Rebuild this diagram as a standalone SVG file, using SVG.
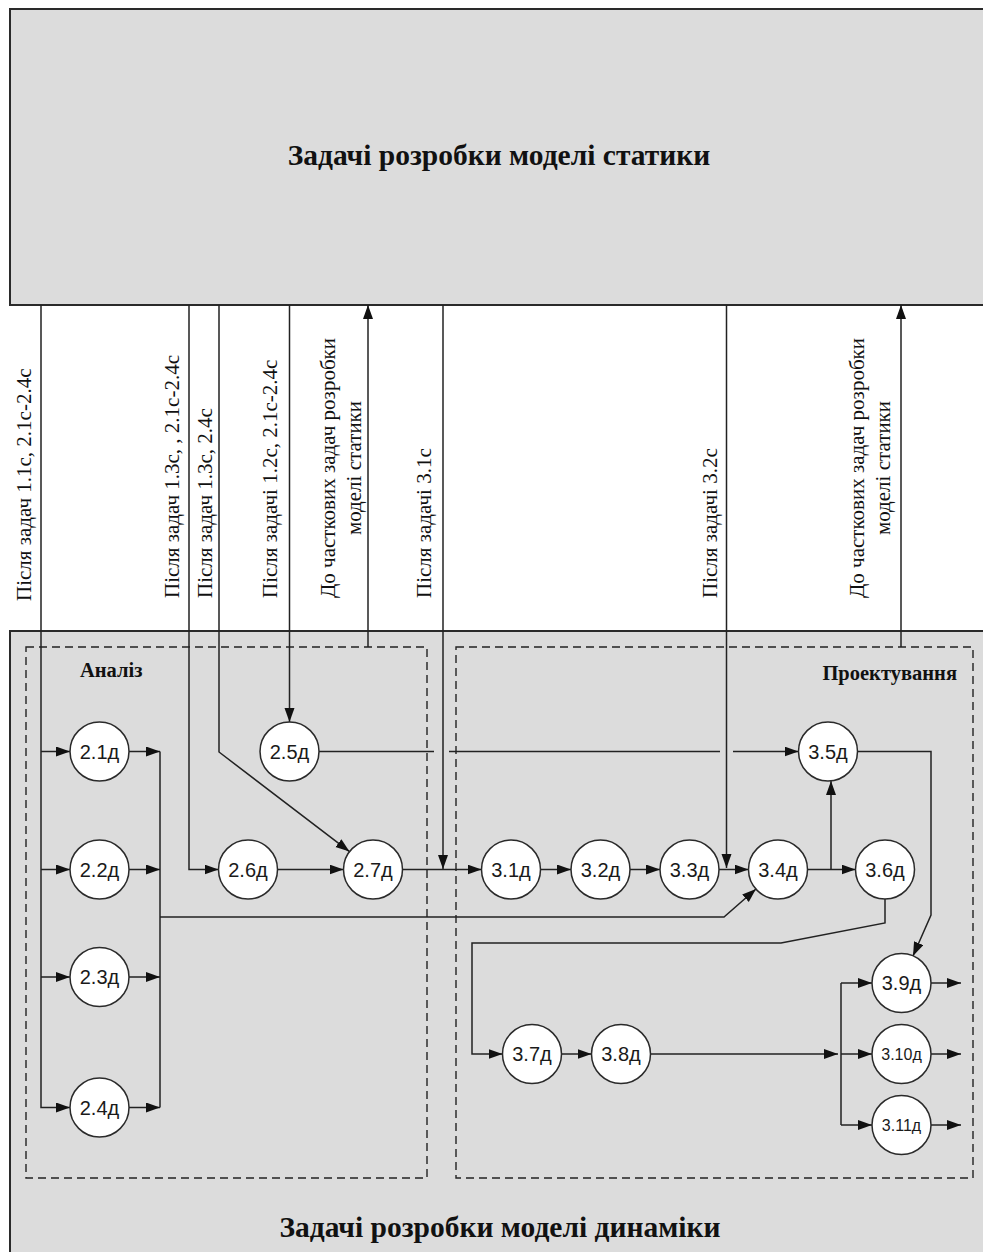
<svg xmlns="http://www.w3.org/2000/svg" width="983" height="1252" viewBox="0 0 983 1252">
  <style>
    .panel { fill: #dcdcdc; stroke: #2a2a2a; stroke-width: 2; }
    .group { fill: none; stroke: #222; stroke-width: 1.4; stroke-dasharray: 8 5; }
    .node circle { fill: #fff; stroke: #2a2a2a; stroke-width: 1.5; }
    .node text { font-family: "Liberation Sans", Arial, sans-serif; font-size: 20px; fill: #1a1a1a; text-anchor: middle; }
    .node text.small { font-size: 16px; }
    .title { font-family: "Liberation Serif", "Times New Roman", serif; font-weight: bold; font-size: 29.5px; fill: #111; text-anchor: middle; }
    .group-label { font-family: "Liberation Serif", "Times New Roman", serif; font-weight: bold; font-size: 20.5px; fill: #111; }
    .note { font-family: "Liberation Serif", "Times New Roman", serif; font-size: 21px; fill: #111; }
    .edges path { fill: none; stroke: #222; stroke-width: 1.5; }
    .edges path.arrow { marker-end: url(#head); }
  </style>
  <defs>
    <marker id="head" markerUnits="userSpaceOnUse" markerWidth="15" markerHeight="11" refX="14" refY="5" orient="auto">
      <path d="M0,0 L14,5 L0,10 z" fill="#111"/>
    </marker>
  </defs>

  <rect width="983" height="1252" fill="#fff"/>

  <!-- statics panel -->
  <g id="statics">
    <rect class="panel" x="10" y="9" width="990" height="296"/>
    <text class="title" x="499" y="165">Задачі розробки моделі статики</text>
  </g>

  <!-- dynamics panel -->
  <g id="dynamics">
    <rect class="panel" x="10" y="631" width="990" height="640"/>
    <text class="title" x="500" y="1237">Задачі розробки моделі динаміки</text>
  </g>

  <g id="analysis">
    <rect class="group" x="26" y="647" width="401" height="531"/>
    <text class="group-label" x="80" y="677">Аналіз</text>
  </g>
  <g id="design">
    <rect class="group" x="456" y="647" width="517" height="531"/>
    <text class="group-label" x="957" y="680" text-anchor="end">Проектування</text>
  </g>

  <!-- vertical notes between the panels -->
  <g id="notes">
    <text class="note" transform="translate(31,601) rotate(-90)">Після задач 1.1с, 2.1с-2.4с</text>
    <text class="note" transform="translate(179,598) rotate(-90)">Після задач 1.3с, , 2.1с-2.4с</text>
    <text class="note" transform="translate(212,598) rotate(-90)">Після задач 1.3с, 2.4с</text>
    <text class="note" transform="translate(277,598) rotate(-90)">Після задачі 1.2с, 2.1с-2.4с</text>
    <text class="note" text-anchor="middle" transform="translate(335,468) rotate(-90)">До часткових задач розробки</text>
    <text class="note" text-anchor="middle" transform="translate(361,468) rotate(-90)">моделі статики</text>
    <text class="note" transform="translate(431,598) rotate(-90)">Після задачі 3.1с</text>
    <text class="note" transform="translate(717,598) rotate(-90)">Після задачі 3.2с</text>
    <text class="note" text-anchor="middle" transform="translate(863.5,468) rotate(-90)">До часткових задач розробки</text>
    <text class="note" text-anchor="middle" transform="translate(889.5,468) rotate(-90)">моделі статики</text>
  </g>

  <!-- connectors -->
  <g id="connectors" class="edges">
    <!-- inputs to 2.1д–2.4д -->
    <path class="arrow" d="M41,305 V1107.5 H70"/>
    <path class="arrow" d="M41,751.5 H70"/>
    <path class="arrow" d="M41,869.5 H70"/>
    <path class="arrow" d="M41,977 H70"/>
    <!-- outputs of 2.1д–2.4д -->
    <path class="arrow" d="M129,751.5 H160"/>
    <path class="arrow" d="M129,869.5 H160"/>
    <path class="arrow" d="M129,977 H160"/>
    <path class="arrow" d="M129,1107.5 H160"/>
    <path d="M160,751.5 V1107.5"/>
    <path class="arrow" d="M160,917 H724 L756,889"/>
    <!-- from statics -->
    <path class="arrow" d="M189,305 V869.5 H218.5"/>
    <path class="arrow" d="M219,305 V752 L349.5,851.6"/>
    <path class="arrow" d="M289.5,305 V722"/>
    <path class="arrow" d="M368,647 V305"/>
    <path class="arrow" d="M443,305 V869"/>
    <path class="arrow" d="M726.5,305 V868"/>
    <path class="arrow" d="M901,647 V305"/>
    <!-- analysis chain -->
    <path class="arrow" d="M277.5,869.5 H343.5"/>
    <path class="arrow" d="M402.5,869.5 H481.5"/>
    <path class="arrow" d="M319,751.5 H434 M449,751.5 H720 M733,751.5 H798.5"/>
    <!-- design chain -->
    <path class="arrow" d="M540.5,869.5 H571"/>
    <path class="arrow" d="M630,869.5 H660"/>
    <path class="arrow" d="M719,869.5 H748.5"/>
    <path class="arrow" d="M807.5,869.5 H855.5"/>
    <path class="arrow" d="M831,869.5 V781"/>
    <path class="arrow" d="M857.5,751.5 H931 V915 L913,956"/>
    <path class="arrow" d="M885,899 V923 L781,943 H472 V1054 H502.5"/>
    <path class="arrow" d="M561.5,1054 H591.5"/>
    <path class="arrow" d="M650.5,1054 H838"/>
    <path d="M841,983 V1125"/>
    <path class="arrow" d="M841,983 H872"/>
    <path class="arrow" d="M841,1054 H872"/>
    <path class="arrow" d="M841,1125 H872"/>
    <path class="arrow" d="M931,983 H961"/>
    <path class="arrow" d="M931,1054 H961"/>
    <path class="arrow" d="M931,1125 H961"/>
  </g>

  <!-- task nodes -->
  <g id="n2-1" class="node"><circle cx="99.5" cy="751.5" r="29.5"/><text x="99.5" y="758.5">2.1д</text></g>
  <g id="n2-2" class="node"><circle cx="99.5" cy="869.5" r="29.5"/><text x="99.5" y="876.5">2.2д</text></g>
  <g id="n2-3" class="node"><circle cx="99.5" cy="977" r="29.5"/><text x="99.5" y="984">2.3д</text></g>
  <g id="n2-4" class="node"><circle cx="99.5" cy="1107.5" r="29.5"/><text x="99.5" y="1114.5">2.4д</text></g>
  <g id="n2-5" class="node"><circle cx="289.5" cy="751.5" r="29.5"/><text x="289.5" y="758.5">2.5д</text></g>
  <g id="n2-6" class="node"><circle cx="248" cy="869.5" r="29.5"/><text x="248" y="876.5">2.6д</text></g>
  <g id="n2-7" class="node"><circle cx="373" cy="869.5" r="29.5"/><text x="373" y="876.5">2.7д</text></g>
  <g id="n3-1" class="node"><circle cx="511" cy="869.5" r="29.5"/><text x="511" y="876.5">3.1д</text></g>
  <g id="n3-2" class="node"><circle cx="600.5" cy="869.5" r="29.5"/><text x="600.5" y="876.5">3.2д</text></g>
  <g id="n3-3" class="node"><circle cx="689.5" cy="869.5" r="29.5"/><text x="689.5" y="876.5">3.3д</text></g>
  <g id="n3-4" class="node"><circle cx="778" cy="869.5" r="29.5"/><text x="778" y="876.5">3.4д</text></g>
  <g id="n3-5" class="node"><circle cx="828" cy="751.5" r="29.5"/><text x="828" y="758.5">3.5д</text></g>
  <g id="n3-6" class="node"><circle cx="885" cy="869.5" r="29.5"/><text x="885" y="876.5">3.6д</text></g>
  <g id="n3-7" class="node"><circle cx="532" cy="1054" r="29.5"/><text x="532" y="1061">3.7д</text></g>
  <g id="n3-8" class="node"><circle cx="621" cy="1054" r="29.5"/><text x="621" y="1061">3.8д</text></g>
  <g id="n3-9" class="node"><circle cx="901.5" cy="983" r="29.5"/><text x="901.5" y="990">3.9д</text></g>
  <g id="n3-10" class="node"><circle cx="901.5" cy="1054" r="29.5"/><text class="small" x="901.5" y="1060">3.10д</text></g>
  <g id="n3-11" class="node"><circle cx="901.5" cy="1125" r="29.5"/><text class="small" x="901.5" y="1131">3.11д</text></g>
</svg>
